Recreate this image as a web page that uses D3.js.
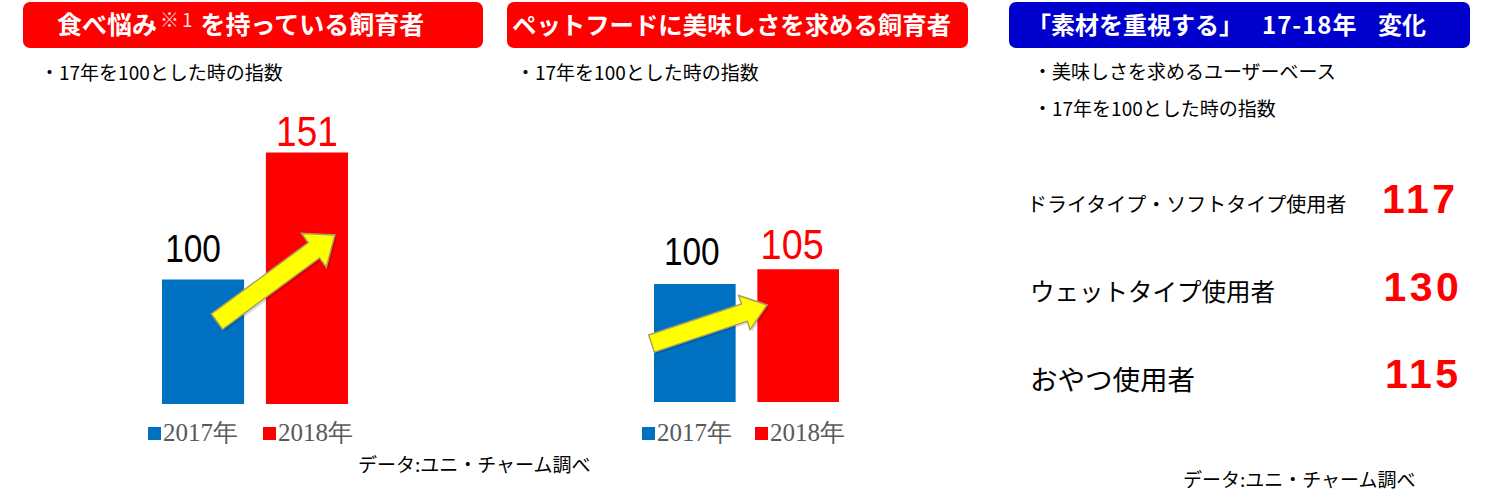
<!DOCTYPE html>
<html><head><meta charset="utf-8">
<script src="https://cdn.jsdelivr.net/npm/d3@7"></script>
<style>
html,body{margin:0;padding:0;background:#fff;}
svg{display:block;}
</style></head>
<body>
<script>
// ---- data ----
const years = ["2017年", "2018年"];
const panel1Title = "食べ悩み";
const panel1TitleNote = "※1";
const panel1TitleRest = "を持っている飼育者";
const panel1Values = [100, 151];
const panel2Title = "ペットフードに美味しさを求める飼育者";
const panel2Values = [100, 105];
const indexNote = "・17年を100とした時の指数";
const panel3TitleA = "「素材を重視する」";
const panel3TitleB = "17-18年";
const panel3TitleC = "変化";
const panel3Base = "・美味しさを求めるユーザーベース";
const panel3Categories = ["ドライタイプ・ソフトタイプ使用者", "ウェットタイプ使用者", "おやつ使用者"];
const panel3Values = [117, 130, 115];
const source = "データ:ユニ・チャーム調べ";

const W = 1492, H = 501;
const JP = "'Noto Sans CJK JP','Noto Sans',sans-serif";
const barColors = ["#0070c0", "#ff0000"];
const labelColors = ["#000000", "#ff0000"];

const svg = d3.select("body").append("svg").attr("width", W).attr("height", H);

function titleBox(x, w, fill) {
  svg.append("rect").attr("x", x).attr("y", 2).attr("width", w).attr("height", 46)
    .attr("rx", 7).attr("fill", fill);
}

// Titles
titleBox(23, 460, "#ff0000");
const t1 = svg.append("text").attr("x", 57).attr("y", 34).attr("fill", "#fff")
  .attr("font-family", JP).attr("font-weight", "bold").attr("font-size", 25);
t1.append("tspan").text(panel1Title);
t1.append("tspan").attr("font-weight", "normal").attr("font-size", 19).attr("dy", -7).attr("dx", 3)
  .attr("letter-spacing", 3).attr("fill", "#f4dcdc").text(panel1TitleNote);
t1.append("tspan").attr("dy", 7).attr("dx", 5).text(panel1TitleRest);

titleBox(507, 461, "#ff0000");
svg.append("text").attr("x", 512).attr("y", 34).attr("fill", "#fff")
  .attr("font-family", JP).attr("font-weight", "bold").attr("font-size", 24.4).text(panel2Title);

titleBox(1009, 461, "#0000cd");
const t3 = svg.append("text").attr("y", 34).attr("fill", "#fff")
  .attr("font-family", JP).attr("font-weight", "bold").attr("font-size", 24);
t3.append("tspan").attr("x", 1027).text(panel3TitleA);
t3.append("tspan").attr("x", 1262).attr("letter-spacing", 1).text(panel3TitleB);
t3.append("tspan").attr("x", 1378).text(panel3TitleC);

// subtitles
function sub(x, y, txt, size) {
  svg.append("text").attr("x", x).attr("y", y).attr("font-family", JP)
    .attr("font-size", size || 19).attr("fill", "#000").text(txt);
}
sub(40, 80, indexNote);
sub(516, 80, indexNote);
sub(1033, 79, panel3Base);
sub(1033, 116, indexNote);

function arrowPath(x0, y0, x1, y1, shaftW, headW, headL) {
  const dx = x1 - x0, dy = y1 - y0, L = Math.hypot(dx, dy);
  const ux = dx / L, uy = dy / L, nx = -uy, ny = ux;
  const bx = x1 - ux * headL, by = y1 - uy * headL;
  const p = [
    [x0 + nx * shaftW / 2, y0 + ny * shaftW / 2],
    [bx + nx * shaftW / 2, by + ny * shaftW / 2],
    [bx + nx * headW / 2, by + ny * headW / 2],
    [x1, y1],
    [bx - nx * headW / 2, by - ny * headW / 2],
    [bx - nx * shaftW / 2, by - ny * shaftW / 2],
    [x0 - nx * shaftW / 2, y0 - ny * shaftW / 2]
  ];
  return "M" + p.map(d => d.join(",")).join("L") + "Z";
}

function barPanel(cfg) {
  const x = d3.scaleBand().domain(years).range(cfg.xRange).paddingInner(0.21).paddingOuter(0);
  const y = d3.scaleLinear().domain(cfg.yDomain).range(cfg.yRange);
  const g = svg.append("g");
  g.selectAll("rect.bar").data(cfg.values).join("rect").attr("class", "bar")
    .attr("x", (d, i) => x(years[i])).attr("width", x.bandwidth())
    .attr("y", d => y(d)).attr("height", d => y(cfg.yDomain[0]) - y(d))
    .attr("fill", (d, i) => barColors[i]);
  g.selectAll("text.val").data(cfg.values).join("text").attr("class", "val")
    .attr("x", (d, i) => x(years[i]) + x.bandwidth() / 2 + cfg.labelDx[i])
    .attr("y", (d, i) => y(d) + cfg.labelDy[i])
    .attr("text-anchor", "middle")
    .attr("font-family", "'Liberation Sans',Arial,sans-serif")
    .attr("font-size", (d, i) => cfg.labelSize[i])
    .attr("fill", (d, i) => labelColors[i])
    .attr("transform", (d, i) => {
      const cx = x(years[i]) + x.bandwidth() / 2 + cfg.labelDx[i];
      return `translate(${cx},0) scale(0.88,1) translate(${-cx},0)`;
    })
    .text(d => d);
  // arrow
  const a = cfg.arrow;
  const ax0 = x(years[0]) + x.bandwidth() * a.from[0], ay0 = y(a.from[1]);
  const ax1 = x(years[1]) + x.bandwidth() * a.to[0], ay1 = y(a.to[1]);
  g.append("path").attr("d", arrowPath(ax0 + 2, ay0 + 2, ax1 + 2, ay1 + 2, a.shaft, a.headW, a.headL))
    .attr("fill", "rgba(0,0,0,0.15)");
  g.append("path").attr("d", arrowPath(ax0, ay0, ax1, ay1, a.shaft, a.headW, a.headL))
    .attr("fill", "#ffff00").attr("stroke", "#a8a060").attr("stroke-width", 1.5).attr("stroke-linejoin", "miter");
  // legend
  const lg = g.append("g");
  years.forEach((yr, i) => {
    const lx = cfg.legendX[i];
    lg.append("rect").attr("x", lx).attr("y", cfg.legendY - 14).attr("width", 13).attr("height", 13).attr("fill", barColors[i]);
    lg.append("text").attr("x", lx + 15).attr("y", cfg.legendY).attr("font-family", "'Liberation Serif','Times New Roman',serif")
      .attr("font-size", 25).attr("fill", "#595959").text(yr);
  });
}

barPanel({
  values: panel1Values, xRange: [162, 348], yDomain: [50, 150], yRange: [404, 155],
  labelDx: [-10, 0], labelDy: [-17, -6], labelSize: [38, 42],
  arrow: { from: [0.67, 83.1], to: [0.84, 117.9], shaft: 19, headW: 42, headL: 26 },
  legendX: [148, 263], legendY: 441
});
barPanel({
  values: panel2Values, xRange: [654, 839], yDomain: [60, 110], yRange: [402, 254.5],
  labelDx: [-3, -6], labelDy: [-19, -10], labelSize: [38, 43],
  arrow: { from: [-0.03, 79.8], to: [0.12, 92.9], shaft: 18, headW: 36, headL: 24 },
  legendX: [642, 755], legendY: 441
});

// panel 3 rows
const rowY = d3.scalePoint().domain(panel3Categories).range([203, 378]);
const catSizes = [20, 24.5, 27.5];
svg.selectAll("text.cat").data(panel3Categories).join("text").attr("class", "cat")
  .attr("x", (d, i) => i === 0 ? 1027 : 1030).attr("y", d => rowY(d))
  .attr("dominant-baseline", "central")
  .attr("font-family", JP).attr("font-size", (d, i) => catSizes[i]).attr("fill", "#000").text(d => d);
svg.selectAll("text.p3val").data(panel3Values).join("text").attr("class", "p3val")
  .attr("x", (d, i) => 1382 + i * 1.5).attr("y", (d, i) => rowY(panel3Categories[i]) + 10)
  .attr("text-anchor", "start")
  .attr("font-family", "'Liberation Sans',Arial,sans-serif").attr("font-weight", "bold")
  .attr("font-size", 41).attr("letter-spacing", 3.5).attr("fill", "#ff0000").text(d => d);

// sources
svg.append("text").attr("x", 358).attr("y", 472).attr("font-family", JP).attr("font-size", 19).text(source);
svg.append("text").attr("x", 1183).attr("y", 487).attr("font-family", JP).attr("font-size", 19).text(source);
</script>
</body></html>
